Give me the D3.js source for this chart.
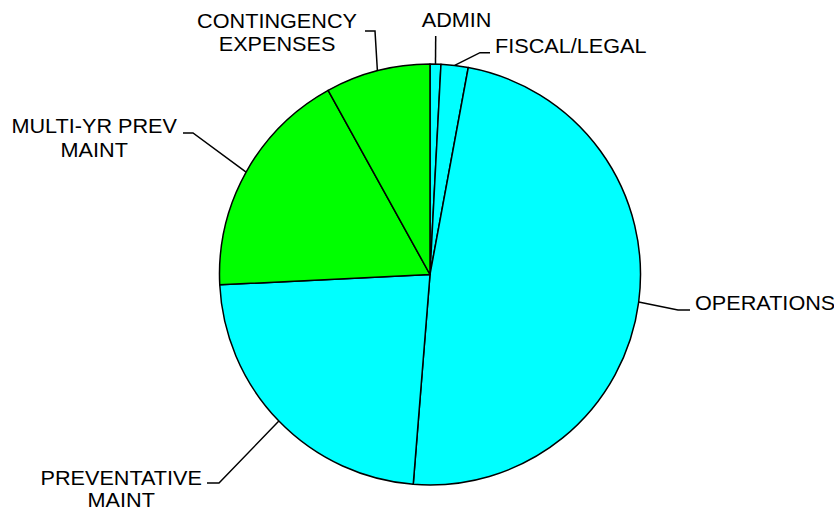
<!DOCTYPE html>
<html>
<head>
<meta charset="utf-8">
<script src="https://cdn.jsdelivr.net/npm/d3@7"></script>
<style>
  html, body { margin: 0; padding: 0; background: #fff; }
  svg text { font-family: "Liberation Sans", Arial, sans-serif; fill: #000; }
</style>
</head>
<body>
<svg id="chart" width="834" height="510"></svg>
<script>
// Budget share by category (percent of total), clockwise from 12 o'clock
const categories = ['ADMIN', 'FISCAL/LEGAL', 'OPERATIONS', 'PREVENTATIVE MAINT', 'MULTI-YR PREV MAINT', 'CONTINGENCY EXPENSES'];
const shares = [0.83, 2.08, 48.36, 22.95, 17.74, 8.04];
const labelLines = [['ADMIN'], ['FISCAL/LEGAL'], ['OPERATIONS'], ['PREVENTATIVE', 'MAINT'], ['MULTI-YR PREV', 'MAINT'], ['CONTINGENCY', 'EXPENSES']];

// colours per slice
const sliceColors = ['#00ffff', '#00ffff', '#00ffff', '#00ffff', '#00ff00', '#00ff00'];

// leader line layout, offsets from the pie centre
// elbow = bend point, end = where the horizontal stub stops, dx/dy = text offset from end
const labelLayout = [
  { elbow: [5.7, -238.5], end: [5.7, -238.5], anchor: 'start', dx: -14, dy: -9, lh: 23 },
  { elbow: [50, -221.8], end: [60, -221.8], anchor: 'start', dx: 5, dy: 0.5, lh: 23 },
  { elbow: [248, 35.5], end: [260, 35.5], anchor: 'start', dx: 5, dy: 0, lh: 23 },
  { elbow: [-211, 208.5], end: [-223, 208.5], anchor: 'end', dx: -5, dy: 1.5, lh: 22.5 },
  { elbow: [-237, -141.5], end: [-247, -141.5], anchor: 'end', dx: -6, dy: 0, lh: 24 },
  { elbow: [-55, -243.5], end: [-65, -243.5], anchor: 'end', dx: -8, dy: -3, lh: 23 }
];

const cx = 430, cy = 274.5, radius = 210.5;
const fontSize = 19.5, stretch = 1.11;

const svg = d3.select('#chart');
const g = svg.append('g').attr('transform', `translate(${cx},${cy})`);

const pie = d3.pie().sort(null).value(d => d.value);
const arcs = pie(categories.map((c, i) => ({ name: c, value: shares[i], i })));
const arc = d3.arc().innerRadius(0).outerRadius(radius);

g.selectAll('path.slice')
  .data(arcs)
  .enter().append('path')
  .attr('class', 'slice')
  .attr('d', arc)
  .attr('fill', d => sliceColors[d.data.i])
  .attr('stroke', '#000')
  .attr('stroke-width', 1.5)
  .attr('stroke-linejoin', 'round');

// leader lines start on the rim at each slice's mid angle
arcs.forEach(d => {
  const lay = labelLayout[d.data.i];
  const mid = (d.startAngle + d.endAngle) / 2;
  const start = [radius * Math.sin(mid), -radius * Math.cos(mid)];

  g.append('polyline')
    .attr('points', [start, lay.elbow, lay.end].map(p => p.join(',')).join(' '))
    .attr('fill', 'none')
    .attr('stroke', '#000')
    .attr('stroke-width', 1.5);

  const lines = labelLines[d.data.i];
  const tx = lay.end[0] + lay.dx;
  const ty = lay.end[1] + lay.dy;

  if (lines.length === 1) {
    g.append('text')
      .attr('transform', `translate(${tx},${ty}) scale(${stretch},1)`)
      .attr('text-anchor', lay.anchor)
      .style('font-size', fontSize + 'px')
      .text(lines[0]);
  } else {
    // multi-line block: lines centred on each other, block edge at tx
    const block = g.append('g');
    const texts = lines.map((t, k) => block.append('text')
      .attr('text-anchor', 'middle')
      .attr('y', k * lay.lh)
      .style('font-size', fontSize + 'px')
      .text(t));
    const maxW = d3.max(texts, t => t.node().getComputedTextLength()) * stretch;
    const centreX = lay.anchor === 'end' ? tx - maxW / 2 : tx + maxW / 2;
    texts.forEach(t => t.attr('transform', `translate(${centreX},${ty}) scale(${stretch},1)`));
  }
});
</script>
</body>
</html>
